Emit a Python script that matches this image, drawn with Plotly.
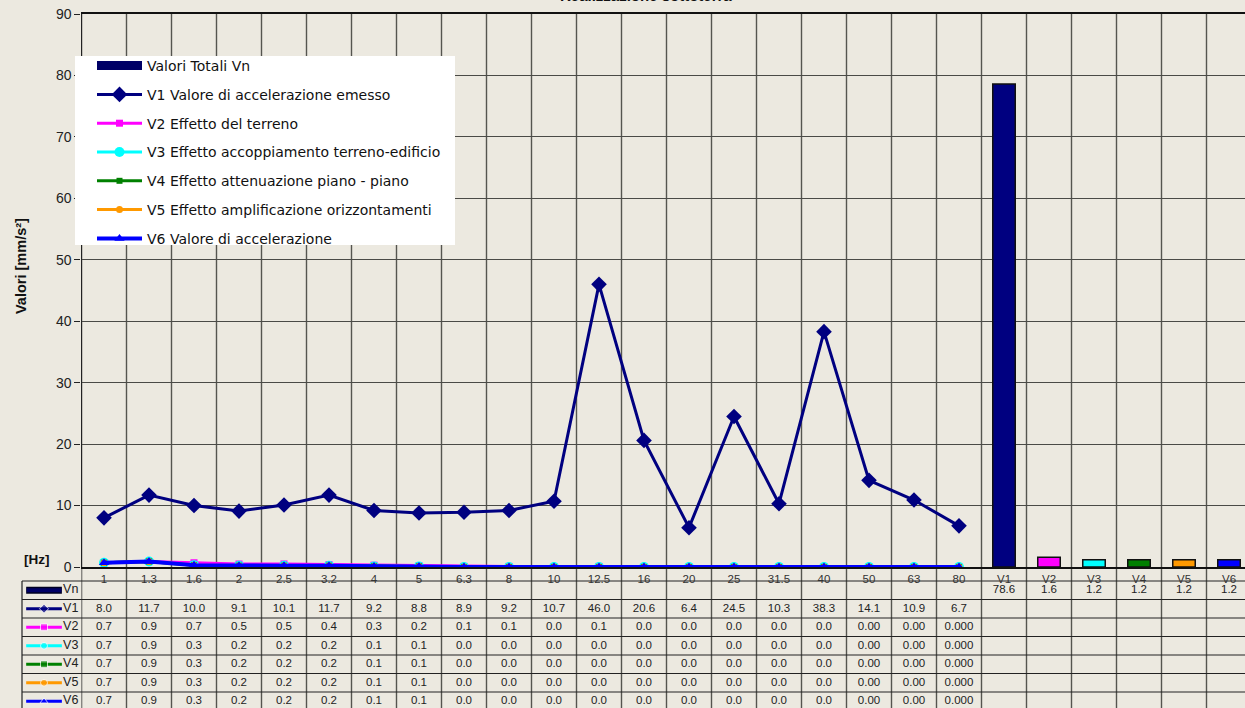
import plotly.graph_objects as go

# ---------------- data ----------------
freq_labels = ["1", "1.3", "1.6", "2", "2.5", "3.2", "4", "5", "6.3", "8", "10",
               "12.5", "16", "20", "25", "31.5", "40", "50", "63", "80"]
total_labels = ["V1", "V2", "V3", "V4", "V5", "V6"]
Vn = [78.6, 1.6, 1.2, 1.2, 1.2, 1.2]
V1 = [8.0, 11.7, 10.0, 9.1, 10.1, 11.7, 9.2, 8.8, 8.9, 9.2, 10.7, 46.0, 20.6, 6.4, 24.5, 10.3, 38.3, 14.1, 10.9, 6.7]
V2 = [0.7, 0.9, 0.7, 0.5, 0.5, 0.4, 0.3, 0.2, 0.1, 0.1, 0.0, 0.1, 0.0, 0.0, 0.0, 0.0, 0.0, 0.00, 0.00, 0.000]
V3 = [0.7, 0.9, 0.3, 0.2, 0.2, 0.2, 0.1, 0.1, 0.0, 0.0, 0.0, 0.0, 0.0, 0.0, 0.0, 0.0, 0.0, 0.00, 0.00, 0.000]
V4 = [0.7, 0.9, 0.3, 0.2, 0.2, 0.2, 0.1, 0.1, 0.0, 0.0, 0.0, 0.0, 0.0, 0.0, 0.0, 0.0, 0.0, 0.00, 0.00, 0.000]
V5 = [0.7, 0.9, 0.3, 0.2, 0.2, 0.2, 0.1, 0.1, 0.0, 0.0, 0.0, 0.0, 0.0, 0.0, 0.0, 0.0, 0.0, 0.00, 0.00, 0.000]
V6 = [0.7, 0.9, 0.3, 0.2, 0.2, 0.2, 0.1, 0.1, 0.0, 0.0, 0.0, 0.0, 0.0, 0.0, 0.0, 0.0, 0.0, 0.00, 0.00, 0.000]
small_decimals = [1] * 17 + [2, 2, 3]   # decimals shown in the table for V2..V6
series_names = ["V1 Valore di accelerazione emesso", "V2 Effetto del terreno",
                "V3 Effetto accoppiamento terreno-edificio", "V4 Effetto attenuazione piano - piano",
                "V5 Effetto amplificazione orizzontamenti", "V6 Valore di accelerazione"]
short_names = ["V1", "V2", "V3", "V4", "V5", "V6"]
y_ticks = [0, 10, 20, 30, 40, 50, 60, 70, 80, 90]

# ---------------- style ----------------
colors = ["#000080", "#FF00FF", "#00FFFF", "#008000", "#FF9900", "#0000FF"]
symbols = ["diamond", "square", "circle", "square", "circle", "triangle-up"]
msizes = [12, 7, 10, 6, 7, 9]
lwidths = [3, 3, 3, 3, 3, 4]
BG = "#ECE9E0"
FONT = "Liberation Sans, Arial, sans-serif"
W, H = 1245, 708
ML, MT = 22, 14
PW, PH = W - ML, H - MT


def px(x):
    return (x - ML) / PW


def py(y):
    return (H - y) / PH


cats = freq_labels + total_labels
ncat = len(cats)
xf = list(range(len(freq_labels)))
xt = list(range(len(freq_labels), ncat))
all_series = [V1, V2, V3, V4, V5, V6]

fig = go.Figure()

# legend entry for totals (bar symbol drawn as thick line)
fig.add_trace(go.Scatter(x=[None], y=[None], mode="lines", name="Valori Totali Vn",
                         line=dict(color="#000066", width=9), legendgroup="vn"))

# totals bars
fig.add_trace(go.Bar(x=xt, y=Vn, width=0.5, showlegend=False,
                     marker=dict(color=colors, line=dict(color="#111", width=1.5))))

# frequency lines
for s, nm, c, sy, ms, lw in zip(all_series, series_names, colors, symbols, msizes, lwidths):
    fig.add_trace(go.Scatter(x=xf, y=s, mode="lines+markers", name=nm, legendgroup=nm,
                             line=dict(color=c, width=lw),
                             marker=dict(symbol=sy, size=ms, color=c)))

# ---------------- data table ----------------
tbl_font = dict(family=FONT, size=11.5, color="#222")
fig.add_trace(go.Scatter(x=xt, y=[0.5] * len(Vn), mode="text", text=[f"{v:.1f}" for v in Vn],
                         textfont=tbl_font, showlegend=False, xaxis="x", yaxis="y2",
                         hoverinfo="skip"))
for r, s in enumerate(all_series, start=1):
    if r == 1:
        txt = [f"{v:.1f}" for v in s]
    else:
        txt = [f"{v:.{d}f}" for v, d in zip(s, small_decimals)]
    fig.add_trace(go.Scatter(x=xf, y=[r + 0.5] * len(s), mode="text", text=txt,
                             textfont=tbl_font, showlegend=False, xaxis="x", yaxis="y2",
                             hoverinfo="skip"))

# table key column
fig.add_trace(go.Scatter(x=[0.07, 0.67], y=[0.5, 0.5], mode="lines", showlegend=False,
                         line=dict(color="#000022", width=7), xaxis="x2", yaxis="y2", hoverinfo="skip"))
fig.add_trace(go.Scatter(x=[0.08, 0.66], y=[0.5, 0.5], mode="lines", showlegend=False,
                         line=dict(color="#000066", width=4), xaxis="x2", yaxis="y2", hoverinfo="skip"))
for r, (c, sy) in enumerate(zip(colors, symbols), start=1):
    fig.add_trace(go.Scatter(x=[0.07, 0.37, 0.67], y=[r + 0.5] * 3, mode="lines+markers",
                             showlegend=False, line=dict(color=c, width=3),
                             marker=dict(symbol=sy, size=[0, 7, 0], color=c),
                             xaxis="x2", yaxis="y2", hoverinfo="skip"))
fig.add_trace(go.Scatter(x=[0.69] * 7, y=[k + 0.5 for k in range(7)], mode="text",
                         text=["Vn"] + short_names, textposition="middle right",
                         textfont=dict(family=FONT, size=12.5, color="#222"), showlegend=False,
                         xaxis="x2", yaxis="y2", hoverinfo="skip"))

# ---------------- shapes ----------------
shapes = []
for i in range(ncat + 1):
    shapes.append(dict(type="line", xref="x", yref="paper", x0=i - 0.5, x1=i - 0.5, y0=0, y1=1,
                       line=dict(color="#55554f" if 0 < i else "#222", width=1.4), layer="below"))
for k in range(8):
    shapes.append(dict(type="line", xref="paper", yref="y2", x0=0, x1=1, y0=k, y1=k,
                       line=dict(color="#222", width=1.2), layer="below"))
shapes.append(dict(type="line", xref="paper", yref="y2", x0=0, x1=0, y0=0, y1=7.5,
                   line=dict(color="#222", width=1.2), layer="below"))
shapes.append(dict(type="rect", xref="paper", yref="paper", x0=px(75), x1=px(455), y0=py(245), y1=py(56),
                   fillcolor="white", line=dict(width=0), layer="above"))

fig.update_layout(
    width=W, height=H, autosize=False,
    margin=dict(l=ML, r=0, t=MT, b=0, pad=0, autoexpand=False),
    paper_bgcolor=BG, plot_bgcolor=BG,
    font=dict(family=FONT, color="#222"),
    barmode="overlay",
    showlegend=True,
    legend=dict(x=px(92), y=py(50), xanchor="left", yanchor="top",
                bgcolor="rgba(0,0,0,0)", borderwidth=0, itemwidth=45,
                tracegroupgap=7.6, traceorder="grouped",
                font=dict(family="DejaVu Sans, sans-serif", size=14, color="#111")),
    xaxis=dict(domain=[px(81.5), 1], range=[-0.5, ncat - 0.5 - 6.5 / 45],
               tickmode="array", tickvals=list(range(ncat)), ticktext=cats,
               ticks="", tickfont=dict(family=FONT, size=11.5, color="#333"),
               showgrid=False, zeroline=False, showline=True, mirror=True,
               linecolor="#111", linewidth=1.5, anchor="y", automargin=False),
    yaxis=dict(domain=[py(567), 1], range=[0, 90], tickvals=y_ticks,
               ticks="outside", ticklen=6, tickcolor="#222",
               tickfont=dict(family=FONT, size=14, color="#222"),
               showgrid=True, gridcolor="#4a4a46", gridwidth=1.3, zeroline=False,
               showline=True, linecolor="#222", linewidth=1.3, anchor="x", automargin=False),
    xaxis2=dict(domain=[0, px(81.5)], range=[0, 1], visible=False, anchor="y2", fixedrange=True,
                automargin=False),
    yaxis2=dict(domain=[0, py(567)], range=[(H - 581) / 18.5, -14 / 18.5], visible=False,
                anchor="x", fixedrange=True, automargin=False),
    shapes=shapes,
    annotations=[
        dict(text="<b>Valori [mm/s²]</b>", textangle=-90, xref="paper", yref="paper",
             x=px(21), y=py(266), xanchor="center", yanchor="middle", showarrow=False,
             font=dict(family=FONT, size=14.5, color="#111")),
        dict(text="<b>[Hz]</b>", xref="paper", yref="paper", x=px(37), y=py(559),
             xanchor="center", yanchor="middle", showarrow=False,
             font=dict(family=FONT, size=13.5, color="#111")),
        dict(text="<b>Realizzazione sottoterra</b>", xref="paper", yref="paper", x=px(646), y=py(6),
             xanchor="center", yanchor="bottom", showarrow=False,
             font=dict(family=FONT, size=15, color="#111")),
    ],
)

fig.write_html("out.html", config={"displayModeBar": False},
               post_script="document.body.style.margin='0';document.body.style.overflow='hidden';")
